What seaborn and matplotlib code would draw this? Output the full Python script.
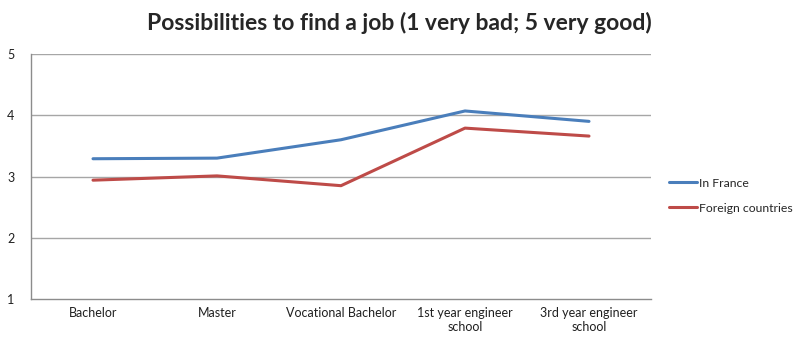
import matplotlib.pyplot as plt
import pandas as pd
import seaborn as sns

# Data
categories = ["Bachelor", "Master", "Vocational Bachelor",
              "1st year engineer\nschool", "3rd year engineer\nschool"]
in_france = [3.29, 3.30, 3.60, 4.07, 3.90]
foreign = [2.94, 3.01, 2.85, 3.79, 3.66]
series_names = ["In France", "Foreign countries"]
colors = ["#4a7ebb", "#be4b48"]

df = pd.DataFrame({
    "category": categories * 2,
    "x": list(range(len(categories))) * 2,
    "value": in_france + foreign,
    "series": [series_names[0]] * len(categories) + [series_names[1]] * len(categories),
})

sns.set_style("white")
plt.rcParams["font.family"] = ["Lato", "DejaVu Sans"]

fig = plt.figure(figsize=(7.98, 3.42), dpi=100)
ax = fig.add_axes([31 / 798, 1 - 299 / 342, 620 / 798, 245 / 342])

sns.lineplot(data=df, x="x", y="value", hue="series", palette=colors,
             linewidth=2.2, ax=ax, legend=True)

ax.set_xlim(-0.5, len(categories) - 0.5)
ax.set_ylim(1, 5)
ax.set_yticks([1, 2, 3, 4, 5])
ax.set_xticks(range(len(categories)))
ax.set_xticklabels(categories, fontsize=9, color="#202020")
ax.tick_params(axis="y", labelsize=9, colors="#202020", length=0, pad=12)
ax.tick_params(axis="x", length=0, pad=6)
ax.set_xlabel("")
ax.set_ylabel("")

for y in [2, 3, 4, 5]:
    ax.axhline(y, color="#a6a6a6", linewidth=1.0, zorder=0)
for side in ["top", "right"]:
    ax.spines[side].set_visible(False)
for side in ["left", "bottom"]:
    ax.spines[side].set_color("#8c8c8c")
    ax.spines[side].set_linewidth(1.0)

ax.legend(loc="center left", bbox_to_anchor=(1.029, 0.422), frameon=False,
          borderpad=0, borderaxespad=0, fontsize=8.8, handlelength=2.3,
          handletextpad=0.15, labelspacing=1.15)

fig.suptitle("Possibilities to find a job (1 very bad; 5 very good)",
             x=0.5, y=0.965, fontsize=16.5, fontweight="bold")

fig.savefig("out.png", dpi=100)
